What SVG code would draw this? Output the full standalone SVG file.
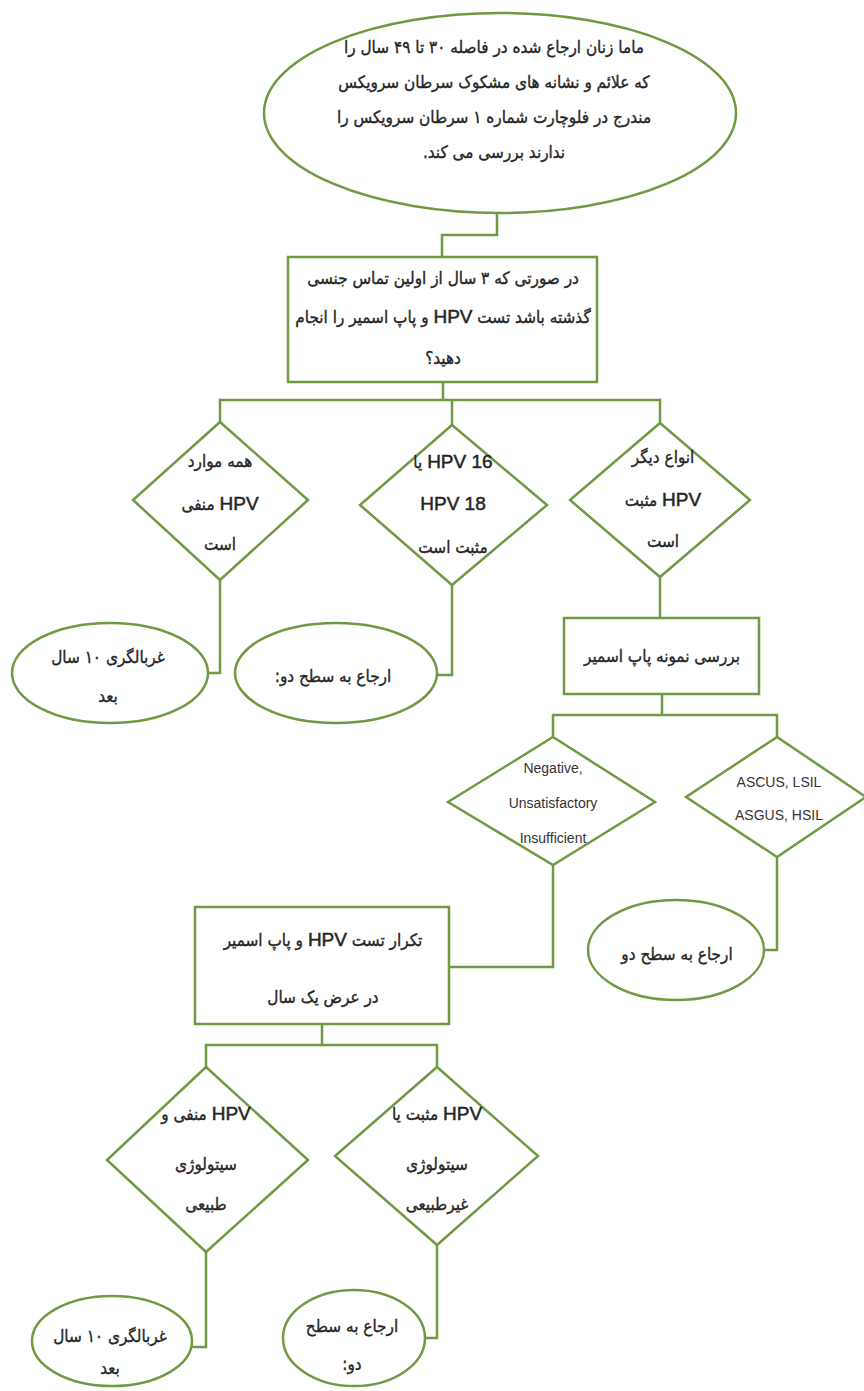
<svg xmlns="http://www.w3.org/2000/svg" width="864" height="1391" viewBox="0 0 864 1391">
<style>
.s{fill:#fff;stroke:#6f9a43;stroke-width:2.5}
.c{fill:none;stroke:#6f9a43;stroke-width:2.5}
.t{font-family:"DejaVu Sans",sans-serif;font-size:17px;font-stretch:condensed;fill:#262626;stroke:#262626;stroke-width:0.35;text-anchor:middle;direction:rtl}
.l{font-family:"Liberation Sans",sans-serif;font-size:14px;fill:#333;text-anchor:middle}
.h{font-family:"Liberation Sans",sans-serif;font-size:19px;stroke-width:0.5}
</style>
<rect width="864" height="1391" fill="#fff"/>
<g id="connectors">
<polyline class="c" points="497,213 497,235 442,235 442,257"/>
<polyline class="c" points="443,382 443,400"/>
<polyline class="c" points="220,422 220,400 660,400 660,423"/>
<polyline class="c" points="452,400 452,425"/>
<polyline class="c" points="220,580 220,673 207,673"/>
<polyline class="c" points="452,585 452,675 437,675"/>
<polyline class="c" points="660,577 660,618"/>
<polyline class="c" points="662,694 662,715"/>
<polyline class="c" points="553,737 553,715 777,715 777,737"/>
<polyline class="c" points="553,865 553,967 450,967"/>
<polyline class="c" points="777,857 777,950 765,950"/>
<polyline class="c" points="322,1024 322,1045"/>
<polyline class="c" points="206,1067 206,1045 437,1045 437,1067"/>
<polyline class="c" points="206,1252 206,1347 192,1347"/>
<polyline class="c" points="437,1245 437,1338 425,1338"/>
</g>
<g id="start">
<ellipse class="s" cx="500" cy="113" rx="236" ry="100"/>
<text class="t" x="494" y="53">ماما زنان ارجاع شده در فاصله ۳۰ تا ۴۹ سال را</text>
<text class="t" x="494" y="88">که علائم و نشانه های مشکوک سرطان سرویکس</text>
<text class="t" x="494" y="123">مندرج در فلوچارت شماره ۱ سرطان سرویکس را</text>
<text class="t" x="494" y="158">ندارند بررسی می کند.</text>
</g>
<g id="test">
<rect class="s" x="288" y="257" width="309" height="125"/>
<text class="t" x="443" y="284">در صورتی که ۳ سال از اولین تماس جنسی</text>
<text class="t" x="443" y="323">گذشته باشد تست <tspan class="h">HPV</tspan> و پاپ اسمیر را انجام</text>
<text class="t" x="443" y="364">دهید؟</text>
</g>
<g id="neg">
<polygon class="s" points="220,422 308,500 220,580 133,500"/>
<text class="t" x="220" y="467">همه موارد</text>
<text class="t" x="220" y="510"><tspan class="h">HPV</tspan> منفی</text>
<text class="t" x="220" y="550">است</text>
</g>
<g id="hpv1618">
<polygon class="s" points="452,425 547,505 452,585 360,505"/>
<text class="t" x="453" y="468"><tspan class="h">HPV 16</tspan> یا</text>
<text class="t" x="453" y="510"><tspan class="h">HPV 18</tspan></text>
<text class="t" x="453" y="553">مثبت است</text>
</g>
<g id="other">
<polygon class="s" points="660,423 750,500 660,577 570,500"/>
<text class="t" x="663" y="463">انواع دیگر</text>
<text class="t" x="663" y="506"><tspan class="h">HPV</tspan> مثبت</text>
<text class="t" x="663" y="547">است</text>
</g>
<g id="screen10a">
<ellipse class="s" cx="110" cy="673" rx="98" ry="50"/>
<text class="t" x="108" y="663">غربالگری ۱۰ سال</text>
<text class="t" x="108" y="702">بعد</text>
</g>
<g id="refer1">
<ellipse class="s" cx="336" cy="673" rx="101" ry="50"/>
<text class="t" x="333" y="682">ارجاع به سطح دو:</text>
</g>
<g id="pap">
<rect class="s" x="564" y="618" width="195" height="76"/>
<text class="t" x="662" y="662">بررسی نمونه پاپ اسمیر</text>
</g>
<g id="negpap">
<polygon class="s" points="553,737 655,802 553,865 448,802"/>
<text class="l" x="553" y="773">Negative,</text>
<text class="l" x="553" y="808">Unsatisfactory</text>
<text class="l" x="553" y="843">Insufficient</text>
</g>
<g id="abn">
<polygon class="s" points="777,737 866,797 777,857 686,797"/>
<text class="l" x="779" y="787">ASCUS, LSIL</text>
<text class="l" x="779" y="820">ASGUS, HSIL</text>
</g>
<g id="refer2">
<ellipse class="s" cx="676" cy="950" rx="88" ry="50"/>
<text class="t" x="677" y="960">ارجاع به سطح دو</text>
</g>
<g id="repeat">
<rect class="s" x="195" y="907" width="254" height="117"/>
<text class="t" x="323" y="946">تکرار تست <tspan class="h">HPV</tspan> و پاپ اسمیر</text>
<text class="t" x="323" y="1003">در عرض یک سال</text>
</g>
<g id="normal">
<polygon class="s" points="206,1067 308,1160 206,1252 107,1160"/>
<text class="t" x="206" y="1120"><tspan class="h">HPV</tspan> منفی و</text>
<text class="t" x="206" y="1170">سیتولوژی</text>
<text class="t" x="206" y="1210">طبیعی</text>
</g>
<g id="abnormal">
<polygon class="s" points="437,1067 538,1156 437,1245 335,1156"/>
<text class="t" x="437" y="1120"><tspan class="h">HPV</tspan> مثبت یا</text>
<text class="t" x="437" y="1170">سیتولوژی</text>
<text class="t" x="437" y="1210">غیرطبیعی</text>
</g>
<g id="screen10b">
<ellipse class="s" cx="112" cy="1341" rx="80" ry="45"/>
<text class="t" x="110" y="1342">غربالگری ۱۰ سال</text>
<text class="t" x="110" y="1374">بعد</text>
</g>
<g id="refer3">
<ellipse class="s" cx="354" cy="1338" rx="71" ry="48"/>
<text class="t" x="352" y="1332">ارجاع به سطح</text>
<text class="t" x="352" y="1370">دو:</text>
</g>
</svg>
